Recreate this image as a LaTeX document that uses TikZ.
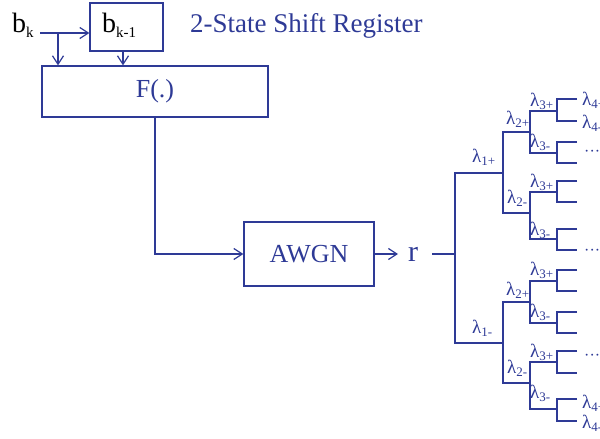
\documentclass[tikz,border=0pt]{standalone}
\usepackage{fontspec}
\setmainfont{Liberation Serif}
\usetikzlibrary{arrows.meta}
\definecolor{ink}{RGB}{46,58,150}
\newcommand\mylam[1]{λ\raisebox{-3.5pt}{\fontsize{13}{15}\selectfont #1}}
\begin{document}
\begin{tikzpicture}[x=1pt,y=-1pt,
  ln/.style={draw=ink, line width=1.2pt},
  arr/.style={ln, -{Straight Barb[length=8.5pt,width=11pt]}},
  blk/.style={draw=ink, line width=1.2pt, inner sep=0pt, text=ink, font=\fontsize{26}{30}\selectfont},
  big/.style={font=\fontsize{27}{30}\selectfont, text=ink, inner sep=0pt},
  btxt/.style={inner sep=0pt, anchor=base west, text=black},
  lab/.style={anchor=base west, inner sep=0pt, text=ink, font=\fontsize{19}{21}\selectfont}]
\useasboundingbox (0,0) rectangle (600,439);

% boxes
\node[blk, minimum width=73pt, minimum height=48pt] (reg) at (126.5,27) {};
\node[blk, minimum width=226pt, minimum height=51pt] (F) at (155,91.5) {F(.)};
\node[blk, minimum width=130pt, minimum height=64pt] (awgn) at (309,254) {AWGN};

% texts
\node[btxt] (bk) at (12,32) {{\fontsize{28}{30}\selectfont b}\raisebox{-5pt}{\fontsize{15}{17}\selectfont k}};
\node[btxt] (bk1) at (102,32) {{\fontsize{28}{30}\selectfont b}\raisebox{-5pt}{\fontsize{15}{17}\selectfont k-1}};
\node[big, anchor=base west] (title) at (190,32) {2-State Shift Register};
\node[big, anchor=base west, font=\fontsize{30}{32}\selectfont] (r) at (408,261) {r};

% connectors on the left
\coordinate (s) at (40,33);
\coordinate (br) at (58,33);
\draw[arr] (s) -- (s -| reg.west);
\draw[arr] (br) -- (br |- F.north);
\draw[arr] ([xshift=-3.5pt]reg.south) -- ([xshift=-3.5pt]reg.south |- F.north);
\draw[arr] (F.south) |- (awgn.west);
\draw[arr] (awgn.east) -- (398,254);

% tree
\coordinate (t0) at (455,254);
\draw[ln] (432,254) -- (t0);
\draw[ln] (503,173) -| (455,343) -- (503,343);
\draw[ln] (530,132) -| (503,213) -- (530,213);
\draw[ln] (530,302) -| (503,383) -- (530,383);
\foreach \a/\b in {111/153, 192/239, 281/323, 362/409}
  \draw[ln] (557,\a) -| (530,\b) -- (557,\b);
\foreach \a/\b in {99/121,142/163,181/202,229/250,270/291,312/333,351/373,399/421}
  \draw[ln] (577,\a) -| (557,\b) -- (577,\b);

% labels
\foreach \x/\y/\s [count=\i] in {472/162/1+, 472/333/1-,
   506/124/2+, 507/203/2-, 506/295/2+, 507/373/2-,
   530/106/3+, 530/147/3-, 530/187/3+, 530/235/3-,
   530/275/3+, 530/317/3-, 530/357/3+, 530/398/3-,
   582/105/4+, 582/128/4-, 582/408/4+, 582/428/4-}
  \node[lab] (lam\i) at (\x,\y) {\mylam{\s}};
\foreach \y [count=\i] in {153,252,357}
  \node[anchor=west, inner sep=0pt, text=ink, font=\fontsize{16}{18}\selectfont] (dots\i) at (584,\y) {···};
\end{tikzpicture}
\end{document}
